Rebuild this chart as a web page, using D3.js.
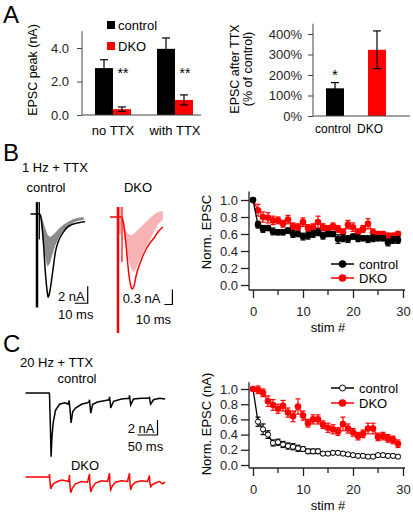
<!DOCTYPE html>
<html><head><meta charset="utf-8">
<script src="https://cdn.jsdelivr.net/npm/d3@7"></script>
<style>
body{margin:0;background:#fff}
svg{display:block;font-family:"Liberation Sans",Arial,sans-serif}
</style></head><body>
<script>
// ---------- Panel A (left) ----------
const groupsA = ["no TTX", "with TTX"];
const seriesA = ["control", "DKO"];
const peakControl = [2.8, 3.95];
const peakControlErr = [0.5, 0.65];
const peakDKO = [0.35, 0.9];
const peakDKOErr = [0.13, 0.3];
const peakTicks = [0, 2, 4];
const sigA = ["**", "**"];
// ---------- Panel A (right) ----------
const ttxCats = ["control", "DKO"];
const ttxValues = [135, 323];
const ttxErr = [28, 92];
const pctTicks = [0, 100, 200, 300, 400];
// ---------- Panel B traces (ms, nA) ----------
const ctrlB_t = [-5, 0, 2, 3, 5, 6.5, 8, 8.5, 9.5, 11, 12.5, 14, 16, 18, 20, 23, 26, 30, 33, 36, 37];
const ctrlB_i = [0, 0, 0, -0.3, -3.5, -7, -9.3, -9.8, -9.4, -8.0, -6.3, -4.6, -3.4, -2.7, -2.2, -1.6, -1.3, -1.1, -1.0, -0.9, -0.95];
const grayB_t = [2, 4, 6, 8, 10, 12, 14, 17, 20, 24, 28, 32, 36];
const grayB_up = [0, -0.6, -1.5, -2.4, -2.7, -2.5, -2.2, -1.7, -1.3, -0.9, -0.6, -0.45, -0.35];
const grayB_lo = [0, -2.5, -4.8, -6.2, -5.8, -4.7, -3.7, -2.7, -2.0, -1.4, -1.0, -0.8, -0.7];
const dkoB_t = [-10, 0, 4, 6, 8, 10, 12, 14, 16, 18, 20, 23, 27, 31, 35, 40, 45, 50, 56];
const dkoB_i = [0, 0, 0, -0.05, -0.25, -0.55, -0.9, -1.2, -1.38, -1.44, -1.38, -1.15, -0.95, -0.78, -0.65, -0.52, -0.42, -0.3, -0.2];
const pinkB_t = [4, 7, 10, 13, 16, 19, 22, 26, 30, 35, 40, 45, 50, 56];
const pinkB_up = [0, -0.15, -0.28, -0.34, -0.36, -0.35, -0.3, -0.24, -0.18, -0.1, -0.02, 0.05, 0.1, 0.12];
const pinkB_lo = [0, -0.3, -0.6, -0.85, -1.0, -1.1, -1.05, -0.9, -0.75, -0.6, -0.45, -0.3, -0.15, -0.05];
// ---------- Panel B / C summary ----------
const stimNum = [0,1,2,3,4,5,6,7,8,9,10,11,12,13,14,15,16,17,18,19,20,21,22,23,24,25,26,27,28,29];
const b_ctrl = [1.0,0.71,0.66,0.67,0.63,0.62,0.62,0.64,0.60,0.60,0.57,0.58,0.60,0.62,0.58,0.60,0.60,0.54,0.55,0.54,0.57,0.55,0.55,0.54,0.55,0.55,0.55,0.50,0.53,0.53];
const b_ctrlErr = [0,0.04,0.04,0.03,0.04,0.03,0.03,0.03,0.04,0.03,0.04,0.04,0.04,0.04,0.04,0.03,0.03,0.05,0.04,0.04,0.03,0.04,0.03,0.04,0.04,0.03,0.03,0.04,0.04,0.04];
const b_dko = [1.0,0.88,0.80,0.79,0.76,0.76,0.72,0.77,0.69,0.68,0.74,0.67,0.68,0.74,0.68,0.66,0.69,0.66,0.62,0.71,0.68,0.62,0.66,0.72,0.62,0.60,0.60,0.58,0.58,0.60];
const b_dkoErr = [0,0.07,0.06,0.06,0.05,0.04,0.04,0.05,0.04,0.04,0.05,0.04,0.04,0.07,0.04,0.04,0.04,0.04,0.04,0.05,0.05,0.04,0.04,0.06,0.04,0.03,0.03,0.03,0.03,0.03];
const c_ctrl = [1.0,0.57,0.47,0.40,0.29,0.30,0.27,0.25,0.24,0.22,0.21,0.18,0.18,0.18,0.15,0.15,0.16,0.16,0.15,0.14,0.13,0.12,0.12,0.11,0.11,0.13,0.13,0.12,0.12,0.11];
const c_ctrlErr = [0,0.06,0.07,0.05,0.04,0.04,0.04,0.04,0.04,0.04,0.03,0.03,0.03,0.03,0.02,0.02,0.02,0.02,0.02,0.02,0.02,0.02,0.02,0.02,0.02,0.02,0.02,0.02,0.02,0.02];
const c_dko = [1.0,0.99,0.95,0.84,0.79,0.74,0.78,0.69,0.64,0.77,0.65,0.55,0.60,0.60,0.53,0.49,0.47,0.44,0.54,0.48,0.43,0.38,0.41,0.48,0.48,0.37,0.38,0.35,0.33,0.28];
const c_dkoErr = [0,0.05,0.05,0.07,0.07,0.06,0.07,0.06,0.07,0.1,0.06,0.05,0.06,0.06,0.05,0.06,0.06,0.05,0.09,0.06,0.05,0.05,0.05,0.07,0.07,0.05,0.05,0.05,0.05,0.05];
const normTicks = [0, 0.2, 0.4, 0.6, 0.8, 1.0];
const stimTicks = [0, 10, 20, 30];
const stimMinor = [5, 15, 25];
// ---------- Panel C traces (ms, nA) ----------
const ctrlC_t = [-60,-1,0,2,4,6,9,15,25,38,47,49,51,54,58,65,80,95,99,100,101,103,108,120,140,149,150,152,153,160,180,199,200,202,203,210,230,249,250,252,253,260,275,289];
const ctrlC_i = [0,0,-0.2,-4,-8.5,-6,-4,-2.3,-1.5,-1.3,-1.5,-1.0,-2,-4,-2.5,-2.0,-1.5,-1.3,-1.2,-0.9,-1.5,-2.7,-1.5,-1.2,-1.0,-0.9,-0.5,-1.3,-2.0,-1.1,-0.8,-0.7,-0.3,-1.2,-1.6,-0.8,-0.7,-0.7,-0.5,-1.3,-1.5,-0.9,-0.7,-0.8];
const dkoC_t = [-60,-1,0,1,3,6,12,20,30,40,48,50,51,53,57,65,80,95,100,101,103,107,115,130,145,150,151,153,157,165,180,195,200,201,203,207,215,230,245,250,251,253,257,265,275,282,289];
const dkoC_i = [0,0,0.4,-0.5,-1.6,-1.2,-0.8,-0.6,-0.4,-0.5,-0.6,0.3,-1,-2.1,-1.5,-0.9,-0.6,-0.7,0.4,-1,-2.0,-1.4,-0.8,-0.5,-0.6,0.5,-0.8,-1.7,-1.2,-0.7,-0.5,-0.6,0.5,-0.8,-1.7,-1.1,-0.7,-0.5,-0.6,0.2,-0.8,-1.3,-1.0,-0.8,-0.6,-0.9,-0.7];

const RED = "#ff0000", PINK = "#f8b4b4", GRAY = "#8c8c8c";
const svg = d3.select("body").append("svg").attr("width", 413).attr("height", 513);
svg.append("rect").attr("width",413).attr("height",513).attr("fill","#fff");
function txt(x, y, s, size, anchor) {
  return svg.append("text").attr("x", x).attr("y", y).attr("font-size", size)
    .attr("text-anchor", anchor || "start").text(s);
}
function vlabel(x, y, s, size) {
  svg.append("text").attr("transform", `translate(${x},${y}) rotate(-90)`)
    .attr("text-anchor", "middle").attr("font-size", size).text(s);
}
// panel letters
txt(3, 23, "A", 24); txt(3, 161, "B", 24); txt(3, 352, "C", 24);

// ===== Panel A left =====
{
  const y = d3.scaleLinear().domain([0, 5]).range([115, 31.25]);
  const x0 = d3.scaleBand().domain(groupsA).range([82, 206]).paddingInner(0.42).paddingOuter(0.21);
  const x1 = d3.scaleBand().domain(seriesA).range([0, x0.bandwidth()]);
  const g = svg.append("g");
  const rows = groupsA.map((gname, i) => [
    {g: gname, s: "control", v: peakControl[i], e: peakControlErr[i], c: "#000"},
    {g: gname, s: "DKO", v: peakDKO[i], e: peakDKOErr[i], c: RED}]).flat();
  g.selectAll("rect.bar").data(rows).join("rect")
    .attr("x", d => x0(d.g) + x1(d.s)).attr("width", x1.bandwidth())
    .attr("y", d => y(d.v)).attr("height", d => y(0) - y(d.v)).attr("fill", d => d.c);
  const cx = d => x0(d.g) + x1(d.s) + x1.bandwidth()/2;
  const eb = g.selectAll("g.eb").data(rows).join("g");
  eb.append("line").attr("x1", cx).attr("x2", cx)
    .attr("y1", d => y(d.v - d.e)).attr("y2", d => y(d.v + d.e)).attr("stroke", "#000").attr("stroke-width", 1.2);
  eb.append("line").attr("x1", d => cx(d) - 4).attr("x2", d => cx(d) + 4)
    .attr("y1", d => y(d.v + d.e)).attr("y2", d => y(d.v + d.e)).attr("stroke", "#000").attr("stroke-width", 1.2);
  eb.filter(d => d.s === "DKO").append("line").attr("x1", d => cx(d) - 4).attr("x2", d => cx(d) + 4)
    .attr("y1", d => y(d.v - d.e)).attr("y2", d => y(d.v - d.e)).attr("stroke", "#000").attr("stroke-width", 1.2);
  groupsA.forEach((gname, i) => {
    txt(x0(gname) + x1("DKO") + x1.bandwidth()/2 + 1, y(2.2), sigA[i], 14, "middle");
  });
  const ax = g.append("g").attr("transform", "translate(82,0)")
    .call(d3.axisLeft(y).tickValues(peakTicks).tickFormat(d3.format(".1f")).tickSize(5).tickSizeOuter(0).tickPadding(8));
  ax.select(".domain").remove();
  ax.selectAll("text").attr("font-size", 13).attr("font-family", "inherit").attr("fill", "#222");
  ax.selectAll("line").attr("stroke", "#444");
  g.append("line").attr("x1", 82).attr("x2", 82).attr("y1", y(5)).attr("y2", y(0)).attr("stroke", "#444");
  g.append("line").attr("x1", 82).attr("x2", 201).attr("y1", y(0)).attr("y2", y(0)).attr("stroke", "#444");
  groupsA.forEach(gname => txt(x0(gname) + x0.bandwidth()/2, 135, gname, 13, "middle"));
  vlabel(37, 70, "EPSC peak (nA)", 12.5);
  const leg = d3.scalePoint().domain(seriesA).range([25, 46]);
  seriesA.forEach((s, i) => {
    g.append("rect").attr("x", 107).attr("y", leg(s) - 4).attr("width", 8).attr("height", 8).attr("fill", i ? RED : "#000");
    txt(118, leg(s) + 5, s, 13);
  });
}

// ===== Panel A right =====
{
  const y = d3.scaleLinear().domain([0, 450]).range([116, 23.75]);
  const x = d3.scaleBand().domain(ttxCats).range([313, 399]).paddingInner(0.571).paddingOuter(0.31);
  const xl = d3.scalePoint().domain(ttxCats).range([333, 370]);
  const g = svg.append("g");
  ttxCats.forEach((c, i) => {
    g.append("rect").attr("x", x(c)).attr("width", x.bandwidth()).attr("y", y(ttxValues[i]))
      .attr("height", y(0) - y(ttxValues[i])).attr("fill", i ? RED : "#000");
    const cx = x(c) + x.bandwidth()/2;
    g.append("line").attr("x1", cx).attr("x2", cx).attr("y1", y(ttxValues[i] - ttxErr[i])).attr("y2", y(ttxValues[i] + ttxErr[i])).attr("stroke", "#000").attr("stroke-width", 1.2);
    [1, -1].forEach(sg => g.append("line").attr("x1", cx - 4).attr("x2", cx + 4)
      .attr("y1", y(ttxValues[i] + sg*ttxErr[i])).attr("y2", y(ttxValues[i] + sg*ttxErr[i])).attr("stroke", "#000").attr("stroke-width", 1.2));
    txt(xl(c), 133, c, 12, "middle");
  });
  txt(x("control") + x.bandwidth()/2, 80, "*", 15, "middle");
  const ax = g.append("g").attr("transform", "translate(313,0)")
    .call(d3.axisLeft(y).tickValues(pctTicks).tickFormat(d => d + "%").tickSize(5).tickSizeOuter(0).tickPadding(6));
  ax.select(".domain").remove();
  ax.selectAll("text").attr("font-size", 13).attr("font-family", "inherit").attr("fill", "#222");
  ax.selectAll("line").attr("stroke", "#444");
  g.append("line").attr("x1", 313).attr("x2", 313).attr("y1", y(450)).attr("y2", y(0)).attr("stroke", "#444");
  g.append("line").attr("x1", 313).attr("x2", 410).attr("y1", y(0)).attr("y2", y(0)).attr("stroke", "#444");
  vlabel(239, 69, "EPSC after TTX", 12.5);
  vlabel(252, 69, "(% of control)", 12.5);
}

// ===== Panel B traces =====
txt(22, 172, "1 Hz + TTX", 13);
txt(46, 192, "control", 13, "middle");
txt(138, 192, "DKO", 13, "middle");
{
  const xt = d3.scaleLinear().domain([0, 40]).range([37, 89]);
  const yi = d3.scaleLinear().domain([-10, 0]).range([299, 214]);
  const area = d3.area().x(d => xt(d[0])).y0(d => yi(d[1])).y1(d => yi(d[2]));
  svg.append("path").datum(grayB_t.map((t, i) => [t, grayB_up[i], grayB_lo[i]])).attr("d", area).attr("fill", GRAY);
  const line = d3.line().x(d => xt(d[0])).y(d => yi(d[1])).curve(d3.curveMonotoneX);
  svg.append("path").datum(ctrlB_t.map((t, i) => [t, ctrlB_i[i]])).attr("d", line).attr("fill", "none").attr("stroke", "#000").attr("stroke-width", 1.5);
  svg.append("line").attr("x1", xt(0)).attr("x2", xt(0)).attr("y1", yi(1.4)).attr("y2", yi(-11.0)).attr("stroke", "#000").attr("stroke-width", 2.5);
  svg.append("line").attr("x1", xt(1.8)).attr("x2", xt(1.8)).attr("y1", yi(1.4)).attr("y2", yi(-3)).attr("stroke", "#000").attr("stroke-width", 1.2);
  const sbx = xt(39), sby = yi(-10.5);
  svg.append("path").attr("d", `M${sbx},${yi(-8.5)}V${sby}H${sbx - (xt(10) - xt(0))}`).attr("fill", "none").attr("stroke", "#000").attr("stroke-width", 1.2);
  txt(sbx - 3, sby - 2, "2 nA", 13, "end");
  txt(sbx - 12, sby + 16, "10 ms", 13, "middle");
}
{
  const xt = d3.scaleLinear().domain([0, 50]).range([118, 158]);
  const yi = d3.scaleLinear().domain([-1, 0]).range([267, 217]);
  const area = d3.area().x(d => xt(d[0])).y0(d => yi(d[1])).y1(d => yi(d[2]));
  svg.append("path").datum(pinkB_t.map((t, i) => [t, pinkB_up[i], pinkB_lo[i]])).attr("d", area).attr("fill", PINK);
  svg.append("line").attr("x1", xt(2)).attr("x2", xt(2)).attr("y1", yi(0.2)).attr("y2", yi(-0.35)).attr("stroke", PINK).attr("stroke-width", 3);
  const line = d3.line().x(d => xt(d[0])).y(d => yi(d[1])).curve(d3.curveMonotoneX);
  svg.append("path").datum(dkoB_t.map((t, i) => [t, dkoB_i[i]])).attr("d", line).attr("fill", "none").attr("stroke", RED).attr("stroke-width", 1.5);
  svg.append("line").attr("x1", xt(0)).attr("x2", xt(0)).attr("y1", yi(0.2)).attr("y2", yi(-2.32)).attr("stroke", RED).attr("stroke-width", 2.5);
  svg.append("line").attr("x1", xt(5)).attr("x2", xt(5)).attr("y1", yi(0.2)).attr("y2", yi(-0.9)).attr("stroke", RED).attr("stroke-width", 1.2);
  const sbx = xt(68), sby = yi(-1.75);
  svg.append("path").attr("d", `M${sbx},${yi(-1.45)}V${sby}H${sbx - (xt(10) - xt(0))}`).attr("fill", "none").attr("stroke", "#000").attr("stroke-width", 1.2);
  txt(sbx - 12, sby - 2, "0.3 nA", 13, "end");
  txt(sbx - 19, sby + 19, "10 ms", 13, "middle");
}

// ===== Scatter panels =====
function scatter(cfg) {
  const x = d3.scaleLinear().domain([0, 30]).range([253, 403]);
  const y = d3.scaleLinear().domain([0, 1]).range(cfg.yr);
  const g = svg.append("g");
  g.append("line").attr("x1", 249).attr("x2", 249).attr("y1", y(cfg.ytop)).attr("y2", cfg.xaxisY).attr("stroke", "#222").attr("stroke-width", 1.3);
  g.append("line").attr("x1", 249).attr("x2", 405).attr("y1", cfg.xaxisY).attr("y2", cfg.xaxisY).attr("stroke", "#222").attr("stroke-width", 1.3);
  const ay = g.append("g").attr("transform", "translate(249,0)")
    .call(d3.axisLeft(y).tickValues(normTicks).tickFormat(d3.format(".1f")).tickSize(8).tickSizeOuter(0).tickPadding(3));
  ay.select(".domain").remove();
  ay.selectAll("line").attr("stroke", "#222").attr("stroke-width", 1.3);
  ay.selectAll("text").attr("font-size", 13).attr("font-family", "inherit").attr("fill", "#222");
  const axx = g.append("g").attr("transform", `translate(0,${cfg.xaxisY})`)
    .call(d3.axisBottom(x).tickValues(stimTicks).tickFormat(d3.format("d")).tickSize(8).tickSizeOuter(0).tickPadding(9));
  axx.select(".domain").remove();
  axx.selectAll("line").attr("stroke", "#222").attr("stroke-width", 1.3);
  axx.selectAll("text").attr("font-size", 13).attr("font-family", "inherit").attr("fill", "#222");
  stimMinor.forEach(v => g.append("line").attr("x1", x(v)).attr("x2", x(v)).attr("y1", cfg.xaxisY).attr("y2", cfg.xaxisY + 5).attr("stroke", "#222").attr("stroke-width", 1.3));
  txt(328, cfg.xaxisY + 42, "stim #", 13, "middle");
  vlabel(211, cfg.ylabelY, cfg.ylabel, 13);
  cfg.series.forEach(s => {
    const sg = g.append("g");
    const pts = stimNum.map((n, i) => ({n, v: s.v[i], e: s.e[i]}));
    sg.append("path").datum(pts).attr("d", d3.line().x(d => x(d.n)).y(d => y(d.v)))
      .attr("fill", "none").attr("stroke", s.c).attr("stroke-width", 1.3);
    pts.filter(d => d.e > 0).forEach(d => {
      sg.append("line").attr("x1", x(d.n)).attr("x2", x(d.n)).attr("y1", y(d.v - d.e)).attr("y2", y(d.v + d.e)).attr("stroke", s.c).attr("stroke-width", 1.2);
      [1, -1].forEach(k => sg.append("line").attr("x1", x(d.n) - 2.5).attr("x2", x(d.n) + 2.5)
        .attr("y1", y(d.v + k*d.e)).attr("y2", y(d.v + k*d.e)).attr("stroke", s.c).attr("stroke-width", 1.2));
    });
    sg.selectAll("circle").data(pts).join("circle").attr("cx", d => x(d.n)).attr("cy", d => y(d.v))
      .attr("r", s.open ? 2.6 : 3.3).attr("fill", s.open ? "#fff" : s.c).attr("stroke", s.c).attr("stroke-width", s.open ? 1 : 0);
  });
  cfg.series.forEach(s => {
    const ly = cfg.legY[s.name];
    g.append("line").attr("x1", 331).attr("x2", 354).attr("y1", ly).attr("y2", ly).attr("stroke", s.c).attr("stroke-width", 1.5);
    g.append("circle").attr("cx", 342.5).attr("cy", ly).attr("r", s.open ? 3 : 3.8).attr("fill", s.open ? "#fff" : s.c).attr("stroke", s.c).attr("stroke-width", s.open ? 1 : 0);
    txt(359, ly + 5, s.name, 13);
  });
}
scatter({yr: [285, 200], ytop: 1.1, xaxisY: 290, ylabel: "Norm. EPSC", ylabelY: 232,
  legY: {control: 264, DKO: 278},
  series: [{name: "DKO", v: b_dko, e: b_dkoErr, c: RED}, {name: "control", v: b_ctrl, e: b_ctrlErr, c: "#000"}]});
scatter({yr: [465, 389], ytop: 1.09, xaxisY: 468, ylabel: "Norm. EPSC (nA)", ylabelY: 424,
  legY: {control: 388, DKO: 403},
  series: [{name: "control", v: c_ctrl, e: c_ctrlErr, c: "#000", open: true}, {name: "DKO", v: c_dko, e: c_dkoErr, c: RED}]});

// ===== Panel C traces =====
txt(20, 367, "20 Hz + TTX", 13);
txt(77, 383, "control", 13, "middle");
txt(85, 470, "DKO", 13, "middle");
{
  const xt = d3.scaleLinear().domain([0, 50]).range([49.5, 69.5]);
  const yc = d3.scaleLinear().domain([-2, 0]).range([408, 393]);
  const yd = d3.scaleLinear().domain([-2, 0]).range([492, 477]);
  const lc = d3.line().x(d => xt(d[0])).y(d => yc(d[1]));
  const ld = d3.line().x(d => xt(d[0])).y(d => yd(d[1]));
  svg.append("path").datum(ctrlC_t.map((t, i) => [t, ctrlC_i[i]])).attr("d", lc).attr("fill", "none").attr("stroke", "#000").attr("stroke-width", 1.5);
  svg.append("path").datum(dkoC_t.map((t, i) => [t, dkoC_i[i]])).attr("d", ld).attr("fill", "none").attr("stroke", RED).attr("stroke-width", 1.5);
  const sbx = xt(270), sby = yc(-5.6);
  svg.append("path").attr("d", `M${sbx},${yc(-3.6)}V${sby}H${sbx - (xt(50) - xt(0))}`).attr("fill", "none").attr("stroke", "#000").attr("stroke-width", 1.2);
  txt(sbx - 3, sby - 2, "2 nA", 13, "end");
  txt(sbx - 12, sby + 16, "50 ms", 13, "middle");
}
</script>
</body></html>
